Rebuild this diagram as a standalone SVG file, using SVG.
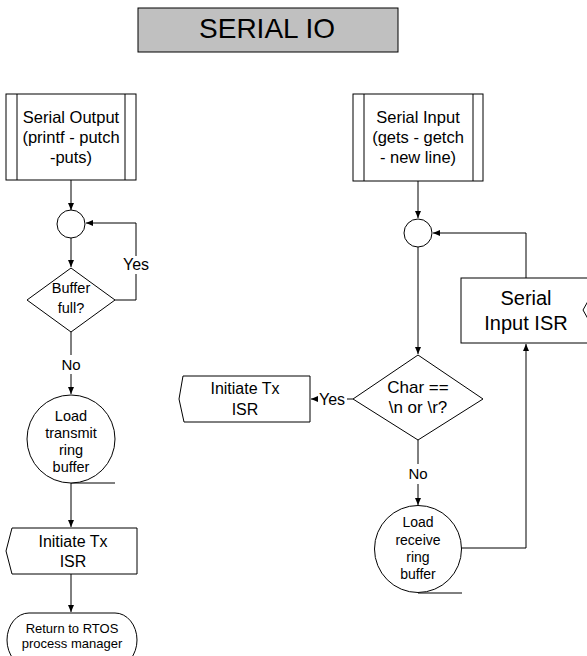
<svg xmlns="http://www.w3.org/2000/svg" width="587" height="656" viewBox="0 0 587 656">
  <defs>
    <marker id="arr" markerWidth="7" markerHeight="6" refX="7" refY="3" orient="auto" markerUnits="userSpaceOnUse">
      <path d="M0,0 L7,3 L0,6 Z" fill="#000"/>
    </marker>
    <style>
      .shape { fill: #fff; stroke: #000; stroke-width: 1; }
      .line { fill: none; stroke: #000; stroke-width: 1; }
      .arrow { fill: none; stroke: #000; stroke-width: 1; marker-end: url(#arr); }
      text { font-family: "Liberation Sans", Arial, sans-serif; fill: #000; text-anchor: middle; }
      .t16 { font-size: 16px; }
      .t14 { font-size: 14.5px; }
      .t13 { font-size: 13px; }
      .lbl { font-size: 16px; }
    </style>
  </defs>
  <rect width="587" height="656" fill="#fff"/>

  <!-- Title banner -->
  <g id="title">
    <rect x="138" y="8" width="260" height="44" fill="#c0c0c0" stroke="#000"/>
    <text x="267" y="38" style="font-size:28px">SERIAL IO</text>
  </g>

  <!-- Connectors -->
  <g id="connectors">
    <!-- output side -->
    <path class="arrow" d="M71,180 V210"/>
    <path class="arrow" d="M71,238 V267"/>
    <path class="line" d="M115,300 H136 V274"/>
    <path class="arrow" d="M136,256 V223 H86"/>
    <path class="line" d="M71,332 V355"/>
    <path class="arrow" d="M71,374 V394"/>
    <path class="line" d="M71,483 H115"/>
    <path class="arrow" d="M71,483 V527"/>
    <path class="arrow" d="M71,574 V612"/>
    <!-- input side -->
    <path class="arrow" d="M418,181 V218"/>
    <path class="arrow" d="M526,278 V233 H433"/>
    <path class="arrow" d="M418,247 V354"/>
    <path class="line" d="M353,399 H347"/>
    <path class="arrow" d="M317,399 H311"/>
    <path class="line" d="M418,440 V464"/>
    <path class="arrow" d="M418,484 V505"/>
    <path class="arrow" d="M461,548 H526 V344"/>
    <path class="line" d="M418,593 H462"/>
  </g>

  <!-- Edge labels -->
  <g id="edge-labels">
    <text class="lbl" x="136" y="270">Yes</text>
    <text x="71" y="370" style="font-size:15px">No</text>
    <text class="lbl" x="332" y="405">Yes</text>
    <text x="418" y="479" style="font-size:15px">No</text>
  </g>

  <!-- Output side nodes -->
  <g id="serial-output">
    <rect class="shape" x="6" y="94" width="130" height="86"/>
    <path class="line" d="M17,94 V180 M125,94 V180"/>
    <text class="t16" style="font-size:16.5px" x="71" y="123">Serial Output</text>
    <text class="t16" style="font-size:16.5px" x="71" y="143">(printf - putch</text>
    <text class="t16" style="font-size:16.5px" x="71" y="163">-puts)</text>
  </g>
  <g id="out-junction">
    <circle class="shape" cx="71" cy="224" r="14"/>
  </g>
  <g id="buffer-full">
    <polygon class="shape" points="71,268 115,300 71,332 27,300"/>
    <text class="t14" x="71" y="293">Buffer</text>
    <text class="t14" x="71" y="313">full?</text>
  </g>
  <g id="load-transmit">
    <circle class="shape" cx="71" cy="439" r="44"/>
    <text class="t14" x="71" y="421">Load</text>
    <text class="t14" x="71" y="438">transmit</text>
    <text class="t14" x="71" y="455">ring</text>
    <text class="t14" x="71" y="472">buffer</text>
  </g>
  <g id="initiate-tx-out">
    <polygon class="shape" points="12,528 137,528 137,574 12,574 6,551"/>
    <text class="t16" x="73" y="547">Initiate Tx</text>
    <text class="t16" x="73" y="567">ISR</text>
  </g>
  <g id="return-rtos">
    <path class="shape" d="M29,613 H115 A22,27 0 0 1 115,667 H29 A22,27 0 0 1 29,613 Z"/>
    <text class="t13" x="72" y="633">Return to RTOS</text>
    <text class="t13" x="72" y="648">process manager</text>
  </g>

  <!-- Input side nodes -->
  <g id="serial-input">
    <rect class="shape" x="353" y="94" width="130" height="87"/>
    <path class="line" d="M364,94 V181 M473,94 V181"/>
    <text class="t16" style="font-size:16.5px" x="418" y="123">Serial Input</text>
    <text class="t16" style="font-size:16.5px" x="418" y="143">(gets - getch</text>
    <text class="t16" style="font-size:16.5px" x="418" y="163">- new line)</text>
  </g>
  <g id="in-junction">
    <circle class="shape" cx="418" cy="233" r="14"/>
  </g>
  <g id="serial-input-isr">
    <rect class="shape" x="461" y="278" width="130" height="65"/>
    <text x="526" y="305" style="font-size:20px">Serial</text>
    <text x="526" y="330" style="font-size:20px">Input ISR</text>
  </g>
  <g id="offpage-node">
    <polygon class="shape" points="592,294 583,310 592,326"/>
  </g>
  <g id="char-newline">
    <polygon class="shape" points="418,355 483,399 418,440 353,399"/>
    <text class="t16" style="font-size:17px" x="418" y="393">Char ==</text>
    <text class="t16" style="font-size:17px" x="418" y="413">\n or \r?</text>
  </g>
  <g id="initiate-tx-in">
    <polygon class="shape" points="183,376 310,376 310,422 184,422 179,399"/>
    <text class="t16" x="245" y="394">Initiate Tx</text>
    <text class="t16" x="245" y="415">ISR</text>
  </g>
  <g id="load-receive">
    <circle class="shape" cx="418" cy="549" r="43.5"/>
    <text x="418" y="527" style="font-size:14px">Load</text>
    <text x="418" y="545" style="font-size:14px">receive</text>
    <text x="418" y="562" style="font-size:14px">ring</text>
    <text x="418" y="579" style="font-size:14px">buffer</text>
  </g>
</svg>
